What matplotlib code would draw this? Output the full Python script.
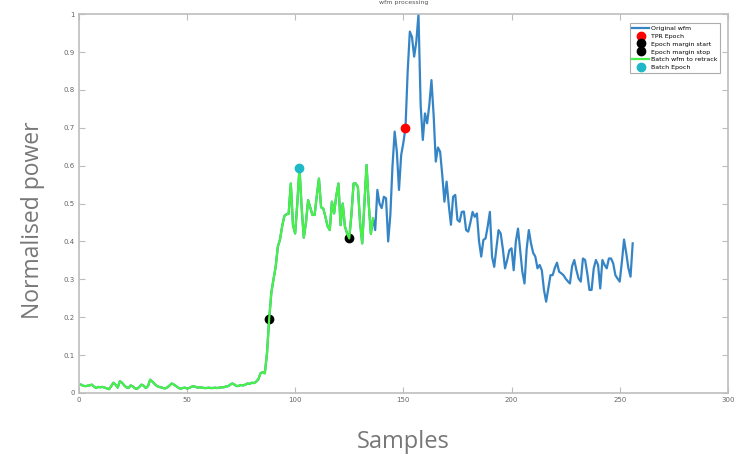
import numpy as np
import matplotlib.pyplot as plt

# waveform values, one per sample (1..256)
wfm = [
    0.022, 0.019, 0.018, 0.019, 0.020, 0.022, 0.017, 0.013, 0.016, 0.015,
    0.016, 0.014, 0.012, 0.010, 0.018, 0.027, 0.022, 0.014, 0.031, 0.027,
    0.020, 0.015, 0.013, 0.020, 0.017, 0.012, 0.011, 0.016, 0.022, 0.019,
    0.013, 0.018, 0.035, 0.030, 0.024, 0.019, 0.016, 0.015, 0.013, 0.012,
    0.015, 0.020, 0.025, 0.022, 0.018, 0.014, 0.011, 0.013, 0.014, 0.012,
    0.013, 0.016, 0.018, 0.016, 0.014, 0.015, 0.014, 0.013, 0.013, 0.014,
    0.013, 0.013, 0.014, 0.013, 0.014, 0.015, 0.015, 0.017, 0.018, 0.022,
    0.025, 0.022, 0.018, 0.019, 0.021, 0.020, 0.022, 0.025, 0.024, 0.027,
    0.026, 0.030, 0.036, 0.052, 0.055, 0.052, 0.105, 0.195, 0.265, 0.300,
    0.333, 0.386, 0.405, 0.440, 0.467, 0.472, 0.473, 0.553, 0.443, 0.421,
    0.500, 0.595, 0.490, 0.410, 0.450, 0.509, 0.490, 0.470, 0.470, 0.520,
    0.566, 0.490, 0.487, 0.465, 0.440, 0.430, 0.505, 0.474, 0.520, 0.553,
    0.443, 0.500, 0.440, 0.421, 0.408, 0.470, 0.553, 0.553, 0.544, 0.450,
    0.395, 0.500, 0.602, 0.500, 0.420, 0.461, 0.430, 0.536, 0.500, 0.488,
    0.518, 0.514, 0.400, 0.470, 0.600, 0.690, 0.637, 0.536, 0.628, 0.660,
    0.700, 0.848, 0.954, 0.940, 0.888, 0.927, 1.000, 0.760, 0.668, 0.738,
    0.712, 0.760, 0.826, 0.734, 0.611, 0.648, 0.637, 0.575, 0.505, 0.558,
    0.496, 0.444, 0.518, 0.523, 0.457, 0.452, 0.478, 0.479, 0.430, 0.426,
    0.450, 0.478, 0.465, 0.474, 0.400, 0.360, 0.404, 0.408, 0.440, 0.478,
    0.360, 0.333, 0.382, 0.430, 0.421, 0.380, 0.329, 0.351, 0.377, 0.382,
    0.324, 0.400, 0.434, 0.377, 0.320, 0.289, 0.380, 0.430, 0.395, 0.370,
    0.360, 0.329, 0.338, 0.324, 0.272, 0.241, 0.276, 0.311, 0.311, 0.330,
    0.344, 0.320, 0.316, 0.311, 0.302, 0.295, 0.289, 0.335, 0.351, 0.324,
    0.302, 0.294, 0.355, 0.351, 0.316, 0.272, 0.272, 0.329, 0.351, 0.338,
    0.276, 0.351, 0.338, 0.329, 0.355, 0.355, 0.342, 0.311, 0.302, 0.294,
    0.346, 0.405, 0.370, 0.330, 0.307, 0.395,
]
samples = np.arange(1, len(wfm) + 1)
wfm = np.array(wfm)

batch_end = 136      # last sample of the batch waveform
tpr_epoch = 151
margin_start = 88
margin_stop = 125
batch_epoch = 102

blue = '#3585c6'
green = '#48f048'
cyan = '#1fb8c6'
grey = '#bdbdbd'

fig = plt.figure(figsize=(7.36, 4.58), dpi=100)
ax = fig.add_axes([0.107, 0.142, 0.882, 0.827])

ax.plot(samples, wfm, color=blue, lw=1.6, label='Original wfm')
ax.plot(tpr_epoch, wfm[tpr_epoch - 1], 'o', color='red', ms=6, label='TPR Epoch')
ax.plot(margin_start, wfm[margin_start - 1], 'o', color='black', ms=6, label='Epoch margin start')
ax.plot(margin_stop, wfm[margin_stop - 1], 'o', color='black', ms=6, label='Epoch margin stop')
ax.plot(samples[:batch_end], wfm[:batch_end], color=green, lw=1.6, label='Batch wfm to retrack')
ax.plot(batch_epoch, wfm[batch_epoch - 1], 'o', color=cyan, ms=6, label='Batch Epoch')

ax.set_xlim(0, 300)
ax.set_ylim(0, 1)
ax.set_xticks(range(0, 301, 50))
ax.set_yticks(np.arange(0, 1.01, 0.1))
ax.set_yticklabels(['0', '0.1', '0.2', '0.3', '0.4', '0.5', '0.6', '0.7', '0.8', '0.9', '1'])
ax.tick_params(direction='in', length=4, width=0.8, colors=grey, labelcolor='#666666',
               labelsize=5, top=True, right=True, pad=3)
for sp in ax.spines.values():
    sp.set_color(grey)
    sp.set_linewidth(1.2)

leg = ax.legend(loc='upper right', fontsize=4.5, frameon=True, fancybox=False,
                borderpad=0.4, labelspacing=0.4, handlelength=2.6, handletextpad=0.4,
                bbox_to_anchor=(0.993, 0.985))
leg.get_frame().set_edgecolor('#999999')
leg.get_frame().set_linewidth(0.8)

fig.text(0.549, 0.999, 'wfm processing', fontsize=4.5, color='#555555', ha='center', va='top')

fig.text(0.045, 0.52, 'Normalised power', rotation=90, fontsize=16.5, color='#777777',
         ha='center', va='center', family='Open Sans')
fig.text(0.548, 0.035, 'Samples', fontsize=17, color='#777777',
         ha='center', va='center', family='Open Sans')

fig.savefig('out.png', dpi=100)
